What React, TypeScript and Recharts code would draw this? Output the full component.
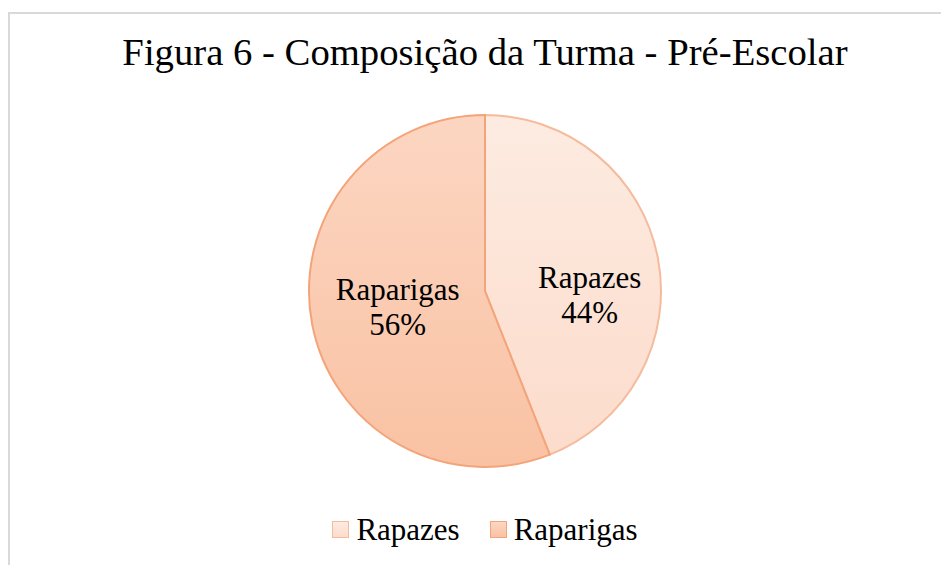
import React from 'react';
import { PieChart, Pie, Cell, Legend } from 'recharts';

const categories = ['Rapazes', 'Raparigas'];
const shares = [44, 56];

const data = categories.map((name, i) => ({ name, value: shares[i] }));

const fills = [
    { top: '#FDEBE1', bottom: '#FCDCCC', stroke: '#F5BB9C' },
    { top: '#FCD6C2', bottom: '#F9C2A3', stroke: '#F4A47A' },
];

const FONT = '"Liberation Serif", "Times New Roman", serif';
const RAD = Math.PI / 180;
const labelStyle = { fontFamily: FONT, fontSize: 31 };

const renderLabel = (props: any) => {
    const { cx, cy, midAngle, outerRadius, index, name, percent } = props;
    // best-fit style placement, close to what the spreadsheet did
    const r = outerRadius * (index === 0 ? 0.605 : 0.505);
    const x = cx + r * Math.cos(-midAngle * RAD);
    const y = cy - 3 + index * 12;
    return (
        <text x={x} y={y} textAnchor="middle" fill="#000" style={labelStyle}>
            <tspan x={x} dy={0}>{name}</tspan>
            <tspan x={x} dy={34.5}>{`${Math.round(percent * 100)}%`}</tspan>
        </text>
    );
};

const renderLegend = () => (
    <div style={{ display: 'flex', justifyContent: 'center', fontFamily: FONT, fontSize: 31, lineHeight: '31px' }}>
        {categories.map((name, i) => (
            <div key={name} style={{ display: 'flex', alignItems: 'center', marginRight: i === 0 ? 30 : 0 }}>
                <span
                    style={{
                        display: 'inline-block',
                        boxSizing: 'border-box',
                        width: 17,
                        height: 17,
                        marginRight: 7,
                        background: `linear-gradient(${fills[i].top}, ${fills[i].bottom})`,
                        border: `1.5px solid ${fills[i].stroke}`,
                    }}
                />
                <span>{name}</span>
            </div>
        ))}
    </div>
);

export default function App() {
    return (
        <div style={{ position: 'relative', width: 941, height: 557, overflow: 'hidden', background: '#fff' }}>
            <div
                style={{
                    position: 'absolute',
                    left: 0,
                    top: 4,
                    right: -10,
                    bottom: -10,
                    borderTop: '2px solid #D9D9D9',
                    borderLeft: '2px solid #D9D9D9',
                }}
            />
            <div
                style={{
                    position: 'absolute',
                    left: 0,
                    top: 25,
                    width: 954,
                    textAlign: 'center',
                    fontFamily: FONT,
                    fontSize: 38.7,
                    lineHeight: '39px',
                    color: '#000',
                }}
            >
                Figura 6 - Composição da Turma - Pré-Escolar
            </div>
            <div style={{ position: 'absolute', left: 0, top: 0 }}>
                <PieChart width={941} height={557} margin={{ top: 0, right: 0, bottom: 0, left: 0 }}>
                    <defs>
                        {fills.map((f, i) => (
                            <linearGradient key={i} id={`slice${i}`} x1="0" y1="0" x2="0" y2="1">
                                <stop offset="0%" stopColor={f.top} />
                                <stop offset="100%" stopColor={f.bottom} />
                            </linearGradient>
                        ))}
                    </defs>
                    <Pie
                        data={data}
                        dataKey="value"
                        nameKey="name"
                        cx={477}
                        cy={283}
                        outerRadius={176}
                        startAngle={90}
                        endAngle={-270}
                        labelLine={false}
                        label={renderLabel}
                        isAnimationActive={false}
                    >
                        {data.map((d, i) => (
                            <Cell key={d.name} fill={`url(#slice${i})`} stroke={fills[i].stroke} strokeWidth={2} />
                        ))}
                    </Pie>
                    <Legend
                        content={renderLegend}
                        wrapperStyle={{ position: 'absolute', top: 506, left: 0, width: 954 }}
                    />
                </PieChart>
            </div>
        </div>
    );
}
